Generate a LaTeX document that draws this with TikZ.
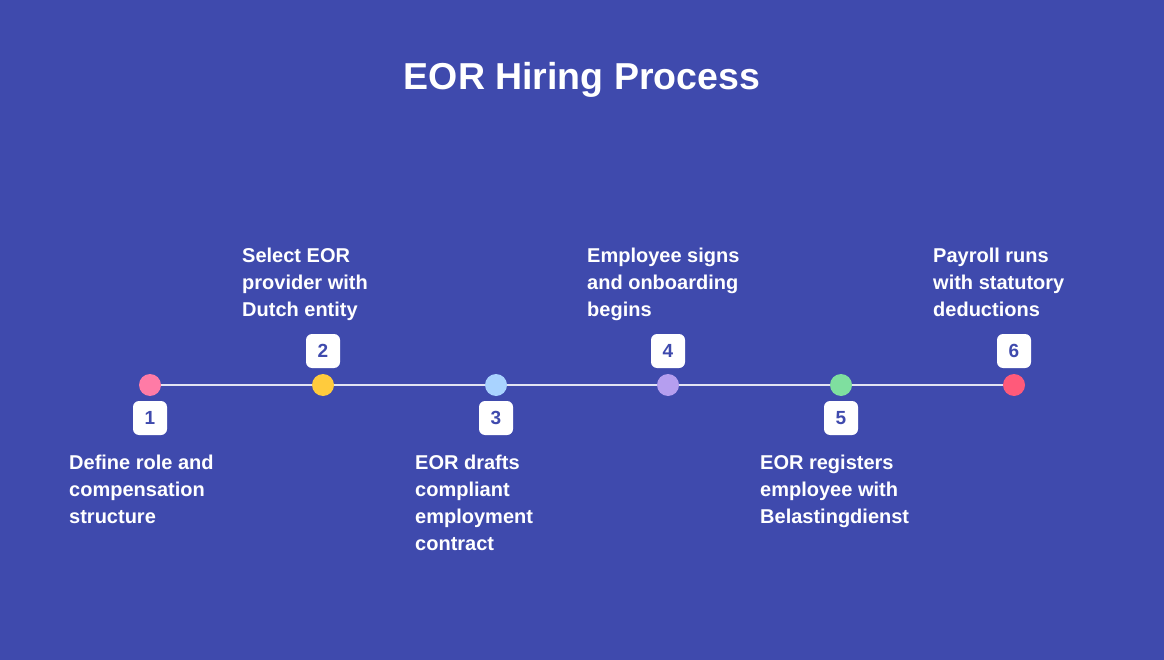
\documentclass[tikz,border=0pt]{standalone}
\usepackage{fontspec}
\setmainfont{Liberation Sans}
\definecolor{bgblue}{HTML}{3F4AAD}
\definecolor{cA}{HTML}{FF7BA6}
\definecolor{cB}{HTML}{FFCB3D}
\definecolor{cC}{HTML}{A9D3FF}
\definecolor{cD}{HTML}{B59EEF}
\definecolor{cE}{HTML}{7FDF9F}
\definecolor{cF}{HTML}{FF5A7A}
\begin{document}
\begin{tikzpicture}[x=1pt,y=-1pt,
  dot/.style={circle,inner sep=0,minimum size=22pt},
  num/.style={rectangle,rounded corners=6pt,fill=white,text=bgblue,minimum width=34pt,
    minimum height=34pt,font=\fontsize{19}{19}\selectfont\bfseries},
  steptext/.style={anchor=north west,align=left,text=white,inner sep=0,
    font=\fontsize{20}{27}\selectfont\bfseries}]
  \fill[bgblue] (0,0) rectangle (1164,660);
  \node[text=white,font=\fontsize{37.5}{37.5}\selectfont\bfseries] (title) at (582,80) {EOR Hiring Process};
  % timeline
  \node[dot,fill=cA] (d1) at (150,385) {};
  \node[dot,fill=cB] (d2) at (323,385) {};
  \node[dot,fill=cC] (d3) at (496,385) {};
  \node[dot,fill=cD] (d4) at (668,385) {};
  \node[dot,fill=cE] (d5) at (841,385) {};
  \node[dot,fill=cF] (d6) at (1014,385) {};
  \draw[white!85!bgblue,line width=2pt] (d1) -- (d2) -- (d3) -- (d4) -- (d5) -- (d6);
  % numbers
  \node[num] (n1) at (150,418) {1};
  \node[num] (n2) at (323,351) {2};
  \node[num] (n3) at (496,418) {3};
  \node[num] (n4) at (668,351) {4};
  \node[num] (n5) at (841,418) {5};
  \node[num] (n6) at (1014,351) {6};
  % labels
  \node[steptext] (t1) at (69,455) {Define role and\\compensation\\structure};
  \node[steptext] (t2) at (242,248) {Select EOR\\provider with\\Dutch entity};
  \node[steptext] (t3) at (415,455) {EOR drafts\\compliant\\employment\\contract};
  \node[steptext] (t4) at (587,248) {Employee signs\\and onboarding\\begins};
  \node[steptext] (t5) at (760,455) {EOR registers\\employee with\\Belastingdienst};
  \node[steptext] (t6) at (933,248) {Payroll runs\\with statutory\\deductions};
\end{tikzpicture}
\end{document}
